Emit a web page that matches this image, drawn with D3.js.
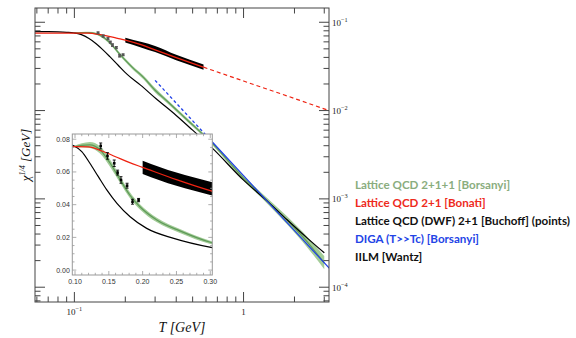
<!DOCTYPE html>
<html>
<head>
<meta charset="utf-8">
<script src="https://cdn.jsdelivr.net/npm/d3@7"></script>
<style>
body { margin: 0; background: #fff; }
</style>
</head>
<body>
<script>
// ---- data (T in GeV, chi^(1/4) in GeV) ----
// IILM [Wantz]
var iilmT   = [0.058, 0.07, 0.08, 0.09, 0.099, 0.11, 0.122, 0.1345, 0.147, 0.162, 0.1815, 0.206, 0.246, 0.303, 0.4, 0.5, 0.656, 1, 1.4, 1.81, 2.4, 3.0];
var iilmChi = [0.0785, 0.0783, 0.0778, 0.0770, 0.0759, 0.0724, 0.0653, 0.0571, 0.049, 0.0408, 0.0326, 0.0255, 0.0194, 0.0137, 0.0088, 0.0060, 0.00373, 0.00163, 0.00092, 0.00058, 0.000355, 0.000245];

// Lattice QCD 2+1+1 [Borsanyi] (band)
var borsT   = [0.1, 0.11, 0.122, 0.137, 0.152, 0.167, 0.181, 0.196, 0.221, 0.256, 0.3, 0.35, 0.45, 0.65, 1, 1.4, 1.8, 2.4, 3.0];
var borsChi = [0.0755, 0.0763, 0.0765, 0.0735, 0.0653, 0.0551, 0.0459, 0.0387, 0.0306, 0.0238, 0.0170, 0.0130, 0.0083, 0.0043, 0.00172, 0.00093, 0.00058, 0.00032, 0.000188];
var borsLo  = [0.0749, 0.0751, 0.0747, 0.0713, 0.0631, 0.0531, 0.0441, 0.0371, 0.0292, 0.0226, 0.0160, 0.01235, 0.0079, 0.0041, 0.00162, 0.00086, 0.00052, 0.000277, 0.000160];
var borsHi  = [0.0761, 0.0775, 0.0783, 0.0757, 0.0675, 0.0571, 0.0477, 0.0403, 0.0320, 0.0250, 0.0180, 0.01365, 0.0087, 0.0045, 0.00182, 0.00100, 0.00064, 0.000366, 0.000225];

// Lattice QCD 2+1 [Bonati] (line, dashed extrapolation above 0.58)
var bonT    = [0.058, 0.08, 0.1, 0.12, 0.14, 0.16, 0.18, 0.2, 0.25, 0.3, 0.4, 0.58, 1, 2, 3.2];
var bonChi  = [0.0755, 0.0755, 0.0755, 0.0753, 0.0728, 0.0693, 0.0658, 0.0628, 0.0553, 0.0486, 0.0398, 0.031, 0.0216, 0.0137, 0.0100];
// Bonati error band
var bonBandT  = [0.2, 0.25, 0.3, 0.4, 0.58];
var bonBandLo = [0.0588, 0.0515, 0.0459, 0.0372, 0.0290];
var bonBandHi = [0.0669, 0.0596, 0.0540, 0.0428, 0.0333];

// DIGA (T>>Tc) [Borsanyi]
var digaT   = [0.3, 0.6, 1, 2, 3.3];
var digaChi = [0.0220, 0.00526, 0.00183, 0.000438, 0.000155];

// Lattice QCD (DWF) 2+1 [Buchoff] points
var dwfT    = [0.138, 0.148, 0.158, 0.163, 0.168, 0.177, 0.185, 0.194];
var dwfChi  = [0.0759, 0.0698, 0.0653, 0.0596, 0.0551, 0.0516, 0.0418, 0.0428];
var dwfErr  = [0.0018, 0.002, 0.002, 0.0015, 0.002, 0.0015, 0.0015, 0.001];

// tick labels
var xMajor = [0.1, 1];
var yMajor = [1e-1, 1e-2, 1e-3, 1e-4];
var insetXTicks = [0.10, 0.15, 0.20, 0.25, 0.30];
var insetYTicks = [0.00, 0.02, 0.04, 0.06, 0.08];

// legend
var legendNames  = ["Lattice QCD 2+1+1 [Borsanyi]", "Lattice QCD 2+1 [Bonati]", "Lattice QCD (DWF) 2+1 [Buchoff] (points)", "DIGA (T>>Tc) [Borsanyi]", "IILM [Wantz]"];
var legendColors = ["#8aad7e", "#ee2a1c", "#111111", "#2344e6", "#111111"];

// colours
var cGreenBand = "#a3cc98", cGreenLine = "#5e9a58", cRed = "#ee2211", cBlue = "#1f3fe8";

// ---- helpers ----
function zip2(a, b) { return a.map(function(v, i) { return [v, b[i]]; }); }
function zip3(a, b, c) { return a.map(function(v, i) { return [v, b[i], c[i]]; }); }
function isPow10(v) { var l = Math.log10(v); return Math.abs(l - Math.round(l)) < 1e-6; }

var width = 576, height = 338;
var svg = d3.select("body").append("svg")
	.attr("width", width)
	.attr("height", height)
	.style("font-family", "'Liberation Serif', 'DejaVu Serif', serif");

// ---- main plot ----
var M = {left: 35, right: 329, top: 8, bottom: 302};
var x = d3.scaleLog().domain([0.0585, 3.2]).range([M.left, M.right]);
var y = d3.scaleLog().domain([6.8e-5, 0.145]).range([M.bottom, M.top]);

var defs = svg.append("defs");
defs.append("clipPath").attr("id", "mainClip").append("rect")
	.attr("x", M.left).attr("y", M.top)
	.attr("width", M.right - M.left).attr("height", M.bottom - M.top);

var plot = svg.append("g").attr("clip-path", "url(#mainClip)");

var line = d3.line().x(function(d) { return x(d[0]); }).y(function(d) { return y(d[1]); }).curve(d3.curveMonotoneX);
var band = d3.area().x(function(d) { return x(d[0]); })
	.y0(function(d) { return y(d[1]); }).y1(function(d) { return y(d[2]); }).curve(d3.curveMonotoneX);

// green band + line
plot.append("path").attr("d", band(zip3(borsT, borsLo, borsHi))).attr("fill", cGreenBand).attr("stroke", "none");
plot.append("path").attr("d", line(zip2(borsT, borsChi))).attr("fill", "none").attr("stroke", cGreenLine).attr("stroke-width", 1.2);

// IILM
plot.append("path").attr("d", line(zip2(iilmT, iilmChi))).attr("fill", "none").attr("stroke", "#000").attr("stroke-width", 1.2);

// DIGA: dashed below 0.6, solid above
var diga = zip2(digaT, digaChi);
plot.append("path").attr("d", line(diga.filter(function(d) { return d[0] <= 0.6; })))
	.attr("fill", "none").attr("stroke", cBlue).attr("stroke-width", 1.3).attr("stroke-dasharray", "3,2.5");
plot.append("path").attr("d", line(diga.filter(function(d) { return d[0] >= 0.6; })))
	.attr("fill", "none").attr("stroke", cBlue).attr("stroke-width", 1.2);

// Bonati band + line
plot.append("path").attr("d", band(zip3(bonBandT, bonBandLo, bonBandHi))).attr("fill", "#000");
var bon = zip2(bonT, bonChi);
plot.append("path").attr("d", line(bon.filter(function(d) { return d[0] <= 0.58; })))
	.attr("fill", "none").attr("stroke", cRed).attr("stroke-width", 1.3);
plot.append("path").attr("d", line(bon.filter(function(d) { return d[0] >= 0.58; })))
	.attr("fill", "none").attr("stroke", cRed).attr("stroke-width", 1.2).attr("stroke-dasharray", "4,3");

// DWF points (main)
function drawPoints(g, sx, sy, color, cap) {
	var pts = dwfT.map(function(t, i) { return {t: t, v: dwfChi[i], e: dwfErr[i]}; });
	var sel = g.selectAll(null).data(pts).enter().append("g");
	sel.append("line")
		.attr("x1", function(d) { return sx(d.t); }).attr("x2", function(d) { return sx(d.t); })
		.attr("y1", function(d) { return sy(d.v - d.e); }).attr("y2", function(d) { return sy(d.v + d.e); })
		.attr("stroke", color).attr("stroke-width", 0.9);
	[-1, 1].forEach(function(s) {
		sel.append("line")
			.attr("x1", function(d) { return sx(d.t) - cap; }).attr("x2", function(d) { return sx(d.t) + cap; })
			.attr("y1", function(d) { return sy(d.v + s * d.e); }).attr("y2", function(d) { return sy(d.v + s * d.e); })
			.attr("stroke", color).attr("stroke-width", 0.9);
	});
	sel.append("rect")
		.attr("x", function(d) { return sx(d.t) - 1.3; }).attr("y", function(d) { return sy(d.v) - 1.3; })
		.attr("width", 2.6).attr("height", 2.6).attr("fill", color);
}
drawPoints(plot, x, y, "#555", 1.5);

// frame
svg.append("rect").attr("x", M.left).attr("y", M.top)
	.attr("width", M.right - M.left).attr("height", M.bottom - M.top)
	.attr("fill", "none").attr("stroke", "#444").attr("stroke-width", 1);

// log ticks (inward on all four sides)
var ticksG = svg.append("g").attr("stroke", "#444").attr("stroke-width", 1);
x.ticks().forEach(function(t) {
	var L = isPow10(t) ? 10 : 5.5, px = x(t);
	if (px < M.left + 0.5 || px > M.right - 0.5) return;
	ticksG.append("line").attr("x1", px).attr("x2", px).attr("y1", M.bottom).attr("y2", M.bottom - L);
	ticksG.append("line").attr("x1", px).attr("x2", px).attr("y1", M.top).attr("y2", M.top + L);
});
y.ticks().forEach(function(t) {
	var L = isPow10(t) ? 10 : 5.5, py = y(t);
	if (py < M.top + 0.5 || py > M.bottom - 0.5) return;
	ticksG.append("line").attr("x1", M.left).attr("x2", M.left + L).attr("y1", py).attr("y2", py);
	ticksG.append("line").attr("x1", M.right).attr("x2", M.right - L).attr("y1", py).attr("y2", py);
});

// tick labels
function powLabel(g, px, py, v, anchor) {
	var t = g.append("text").attr("x", px).attr("y", py).attr("text-anchor", anchor)
		.attr("font-size", 9).attr("fill", "#222");
	if (v === 1) { t.text("1"); return t; }
	t.append("tspan").text("10");
	t.append("tspan").attr("dy", -4).attr("font-size", 6.3).text("\u2212" + Math.round(-Math.log10(v)));
	return t;
}
xMajor.forEach(function(v) { powLabel(svg, x(v), 315, v, "middle"); });
yMajor.forEach(function(v) { powLabel(svg, M.right + 3, y(v) + 3.5, v, "start"); });

// axis titles
svg.append("text").attr("x", 182).attr("y", 332).attr("text-anchor", "middle")
	.attr("font-size", 14).attr("font-style", "italic").attr("fill", "#111")
	.text("T [GeV]");
var yt = svg.append("text").attr("transform", "translate(30,155) rotate(-90)")
	.attr("text-anchor", "middle").attr("font-size", 13).attr("font-style", "italic").attr("fill", "#111");
yt.append("tspan").text("\u03c7");
yt.append("tspan").attr("dy", -5).attr("font-size", 8).text("1/4");
yt.append("tspan").attr("dy", 5).text(" [GeV]");

// ---- inset ----
var I = {left: 72.3, right: 212.3, top: 134, bottom: 275};
var ix = d3.scaleLinear().domain([0.096, 0.303]).range([I.left, I.right]);
var iy = d3.scaleLinear().domain([-0.003, 0.0832]).range([I.bottom, I.top]);

svg.append("rect").attr("x", I.left).attr("y", I.top)
	.attr("width", I.right - I.left).attr("height", I.bottom - I.top).attr("fill", "#fff");
defs.append("clipPath").attr("id", "insetClip").append("rect")
	.attr("x", I.left).attr("y", I.top)
	.attr("width", I.right - I.left).attr("height", I.bottom - I.top);
var inset = svg.append("g").attr("clip-path", "url(#insetClip)");

var iline = d3.line().x(function(d) { return ix(d[0]); }).y(function(d) { return iy(d[1]); }).curve(d3.curveMonotoneX);
var iband = d3.area().x(function(d) { return ix(d[0]); })
	.y0(function(d) { return iy(d[1]); }).y1(function(d) { return iy(d[2]); }).curve(d3.curveMonotoneX);

inset.append("path").attr("d", iband(zip3(borsT, borsLo, borsHi))).attr("fill", cGreenBand);
inset.append("path").attr("d", iline(zip2(borsT, borsChi))).attr("fill", "none").attr("stroke", cGreenLine).attr("stroke-width", 1.2);
inset.append("path").attr("d", iline(zip2(iilmT, iilmChi))).attr("fill", "none").attr("stroke", "#000").attr("stroke-width", 1.2);
inset.append("path").attr("d", iband(zip3(bonBandT, bonBandLo, bonBandHi))).attr("fill", "#000");
inset.append("path").attr("d", iline(bon)).attr("fill", "none").attr("stroke", cRed).attr("stroke-width", 1.3);
drawPoints(inset, ix, iy, "#000", 1.5);

// inset frame and ticks
svg.append("rect").attr("x", I.left).attr("y", I.top)
	.attr("width", I.right - I.left).attr("height", I.bottom - I.top)
	.attr("fill", "none").attr("stroke", "#999").attr("stroke-width", 1);
var iticks = svg.append("g").attr("stroke", "#999").attr("stroke-width", 0.8);
d3.range(0.10, 0.3001, 0.01).forEach(function(t, i) {
	var L = (i % 5 === 0) ? 4 : 2.2, px = ix(t);
	iticks.append("line").attr("x1", px).attr("x2", px).attr("y1", I.bottom).attr("y2", I.bottom - L);
	iticks.append("line").attr("x1", px).attr("x2", px).attr("y1", I.top).attr("y2", I.top + L);
});
d3.range(0, 0.0801, 0.005).forEach(function(t, i) {
	var L = (i % 4 === 0) ? 4 : 2.2, py = iy(t);
	iticks.append("line").attr("x1", I.left).attr("x2", I.left + L).attr("y1", py).attr("y2", py);
	iticks.append("line").attr("x1", I.right).attr("x2", I.right - L).attr("y1", py).attr("y2", py);
});
var ilab = svg.append("g").attr("font-family", "'Liberation Sans', Arial, sans-serif").attr("font-size", 7).attr("fill", "#333");
insetXTicks.forEach(function(t) {
	ilab.append("text").attr("x", ix(t)).attr("y", I.bottom + 8.5).attr("text-anchor", "middle").text(t.toFixed(2));
});
insetYTicks.forEach(function(t) {
	ilab.append("text").attr("x", I.left - 2.5).attr("y", iy(t) + 2.5).attr("text-anchor", "end").text(t.toFixed(2));
});

// ---- legend ----
var legend = svg.append("g").attr("font-family", "Lato, 'Open Sans', sans-serif").attr("font-weight", "bold");
var legendTexts = legend.selectAll("text").data(legendNames).enter().append("text")
	.attr("x", 355)
	.attr("y", function(d, i) { return 189 + i * 18; })
	.attr("font-size", 12)
	.attr("fill", function(d, i) { return legendColors[i]; })
	.text(function(d) { return d; });
// fit the longest line to the reference width
var longest = legendTexts.nodes()[2].getComputedTextLength();
legendTexts.attr("font-size", 12 * 215 / longest);
</script>
</body>
</html>
